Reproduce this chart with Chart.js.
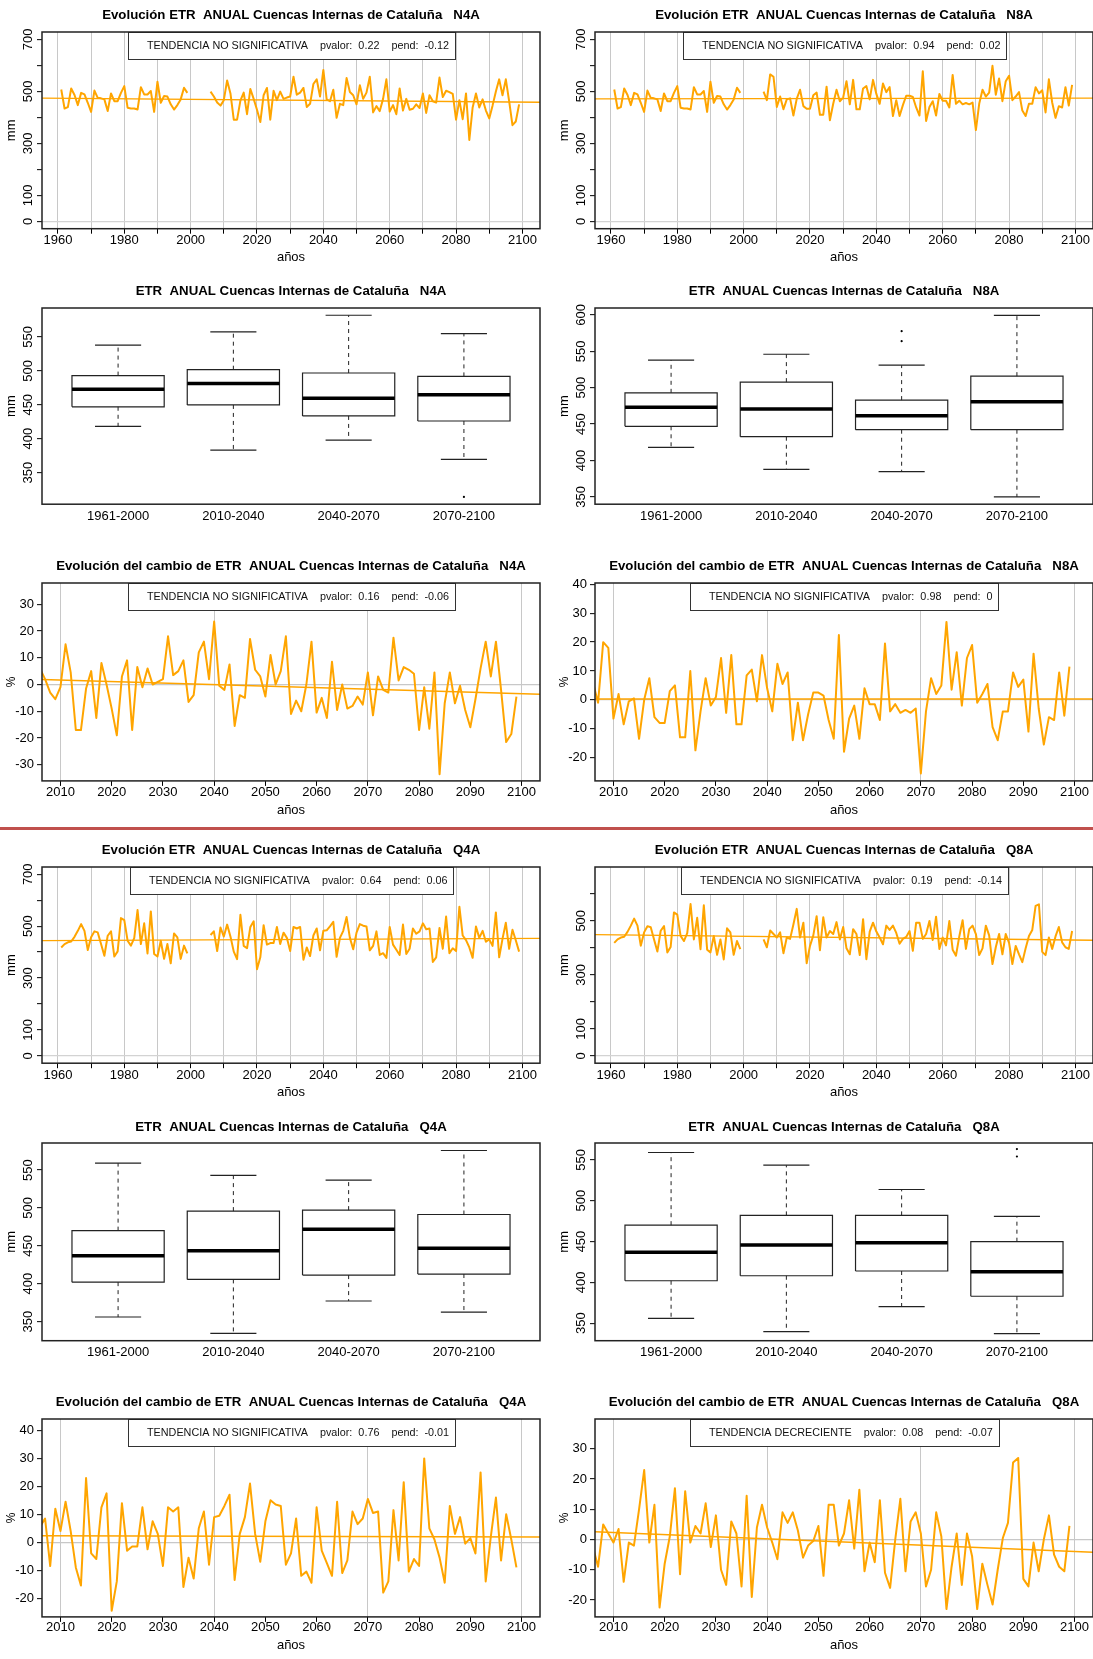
<!DOCTYPE html>
<html><head><meta charset="utf-8">
<script src="https://cdn.jsdelivr.net/npm/chart.js@4/dist/chart.umd.min.js"></script>
<style>
html,body{margin:0;padding:0;background:#fff;}
body{width:1093px;height:1659px;overflow:hidden;position:relative;}
canvas{position:absolute;}
#sep{position:absolute;left:0;top:827px;width:1093px;height:3px;background:#C0504D;}
</style></head><body>
<div id="sep"></div>
<script>
// ---------------- DATA ----------------
const histYears = []; for (let y = 1961; y <= 1999; y++) histYears.push(y);
const futYears = []; for (let y = 2006; y <= 2099; y++) futYears.push(y);

// observed/control period 1961-1999 (mm)
const obsN = [507,434,439,511,486,447,494,488,456,421,503,475,473,469,424,492,462,462,494,520,437,434,434,430,516,488,488,501,421,537,456,482,480,450,430,447,469,514,494];
const obsQ = [418,431,438,441,459,482,508,482,408,457,480,476,431,386,463,480,383,403,531,523,444,425,454,562,431,511,395,557,393,383,444,374,431,357,472,457,374,425,395];

// projected 2006-2099 (mm)
const futN4A = [499,480,457,445,466,542,492,391,391,464, 495,412,509,471,429,382,485,513,391,502, 466,499,471,476,480,556,487,495,513,440, 452,528,546,480,582,469,462,506,398,452, 447,551,497,485,450,523,471,495,556,419, 443,424,471,546,422,447,412,511,426,471, 429,433,450,436,492,417,485,462,457,553, 478,502,497,490,391,466,393,492,313,438, 492,438,469,426,396,445,499,546,485,546, 462,370,384,450];
const futN8A = [499,466,565,556,440,480,431,469,473,407, 471,506,443,433,433,485,495,410,410,518, 389,452,506,462,476,539,450,544,431,431, 511,520,469,544,490,452,530,497,516,405, 466,405,447,483,483,478,438,407,577,386, 440,462,407,490,464,464,438,563,452,464, 450,455,450,457,351,452,506,480,495,598, 487,549,462,539,560,466,480,497,426,405, 452,452,516,492,504,419,546,457,398,443, 438,516,445,525];
const futQ4A = [466,480,404,495,460,506,460,402,373,544, 424,415,497,519,334,380,504,429,435,435, 497,431,475,455,404,497,491,497,371,418, 385,464,491,407,482,484,499,517,382,455, 482,535,455,411,475,508,502,499,407,424, 480,389,396,378,497,429,409,389,506,393, 413,491,471,480,511,488,491,362,380,493, 413,537,396,415,404,575,464,446,418,378, 499,455,482,440,449,424,553,380,451,513, 413,486,446,402];
const futQ8A = [431,402,464,451,438,457,380,438,433,486, 544,438,493,343,407,446,517,391,513,438, 462,451,495,431,477,398,376,469,451,373, 506,358,460,493,460,438,413,482,466,482, 455,415,433,440,462,389,493,493,433,451, 499,429,515,396,438,409,499,393,371,442, 502,396,469,482,451,373,398,482,446,340, 402,451,376,451,418,340,407,376,347,398, 444,466,555,561,385,373,438,396,442,477, 420,402,396,462];

// change (%) 2006-2099
const pctN4A = [6,2,-3,-5.5,-1,15,4.5,-17,-17,-1.5, 5,-12.5,8,0,-9,-19,3,9,-17,6.5, -1,6,0,1,2,18,3.5,5,9,-6.5, -4,12,16,2,23.5,-0.5,-2,7.5,-15.5,-4, -5,17,5.5,3,-4.5,11,0,5,18,-11, -6,-10,0,16,-10.5,-5,-12.5,8.5,-9.5,0, -9,-8,-4.5,-7.5,4.5,-11.5,3,-2,-3,17.5, 1.5,6.5,5.5,4,-17,-1,-16.5,4.5,-33.5,-7, 4.5,-7,-0.5,-9.5,-16,-5.5,6,16,3,16, -2,-21.5,-18.5,-4.5];
const pctN8A = [6,-1,20,18,-6.5,2,-8.5,-0.5,0.5,-13.5, 0,7.5,-6,-8,-8,3,5,-13,-13,10, -17.5,-4,7.5,-2,1,14.5,-4.5,15.5,-8.5,-8.5, 8.5,10.5,-0.5,15.5,4,-4,12.5,5.5,9.5,-14, -1,-14,-5,2.5,2.5,1.5,-7,-13.5,22.5,-18, -6.5,-2,-13.5,4,-1.5,-1.5,-7,19.5,-4,-1.5, -4.5,-3.5,-4.5,-3,-25.5,-4,7.5,2,5,27, 3.5,16.5,-2,14.5,19,-1,2,5.5,-9.5,-14, -4,-4,9.5,4.5,7,-11,16,-3,-15.5,-6, -7,9.5,-5.5,11.5];
const pctQ4A = [5.5,8.5,-8.5,12,4,14.5,4,-9,-15.5,23, -4,-6,12.5,17.5,-24.5,-14,14,-3,-1.5,-1.5, 12.5,-2.5,7.5,3,-8.5,12.5,11,12.5,-16,-5.5, -13,5,11,-8,9,9.5,13,17,-13.5,3, 9,21,3,-7,7.5,15,13.5,13,-8,-4, 8.5,-12,-10.5,-14.5,12.5,-3,-7.5,-12,14.5,-11, -6.5,11,6.5,8.5,15.5,10.5,11,-18,-14,11.5, -6.5,21.5,-10.5,-6,-8.5,30,5,1,-5.5,-14.5, 13,3,9,-0.5,1.5,-4,25,-14,2,16, -6.5,10,1,-9];
const pctQ8A = [-2.5,-9,5,2,-1,3.5,-14,-1,-2,10, 23,-1,11.5,-22.5,-8,1,17,-11.5,16,-1, 4.5,2,12,-2.5,8,-10,-15,6,2,-15.5, 14.5,-19,4,11.5,4,-1,-6.5,9,5.5,9, 3,-6,-2,-0.5,4.5,-12,11.5,11.5,-2,2, 13,-3,16.5,-10.5,-1,-7.5,13,-11,-16,0, 13.5,-10.5,6,9,2,-15.5,-10,9,1,-23, -9,2,-15,2,-5.5,-23,-8,-15,-21.5,-10, 0.5,5.5,25.5,27,-13,-15.5,-1,-10.5,0,8, -5,-9,-10.5,4.5];

// trend line ends [at left edge, at right edge]
const trendTsN4A = [474, 458], trendTsN8A = [471, 474], trendTsQ4A = [444, 453], trendTsQ8A = [449, 428];
const trendPctN4A = [1.9, -3.6], trendPctN8A = [0.3, 0.3], trendPctQ4A = [2.3, 1.9], trendPctQ8A = [2.6, -4.2];

// boxplots: [lower whisker, Q1, median, Q3, upper whisker] per period
const periods = ['1961-2000', '2010-2040', '2040-2070', '2070-2100'];
const boxN4A = [[418,447,473,493,538],[383,449.7,481.4,501.7,557.5],[397.9,433.5,459.7,496.8,582],[369.3,426,464.6,491.8,555]];
const boxN8A = [[418,447,473,493,538],[387.9,432.7,470.7,507.7,546],[384.7,442.3,461.5,483,531],[350,442.3,480.7,515.9,599.5]];
const boxQ4A = [[356,402,437,470,559],[334.4,405.6,443.3,495.8,542.9],[377.1,411.3,471.8,497.1,536.7],[362.4,412.7,446.9,491.3,575.8]];
const boxQ8A = [[356,402,437,470,559],[339.7,408.1,445.7,482,543.4],[370.2,413.9,448.6,482,513.7],[337.2,383,413.1,449.8,480.7]];
const outN4A = [[4, 314]];
const outN8A = [[3, 577.6], [3, 563.9]];
const outQ4A = [];
const outQ8A = [[4, 563.2], [4, 554.1]];

// axis ticks / labels
const tsXTicks = [1960,1970,1980,1990,2000,2010,2020,2030,2040,2050,2060,2070,2080,2090,2100];
const tsXLabels = [1960,1980,2000,2020,2040,2060,2080,2100];
const tsYTicks = [0,100,200,300,400,500,600,700];
const tsYLabels = [0,100,300,500,700];
const tsYTicksQ8A = [0,100,200,300,400,500,600];
const tsYLabelsQ8A = [0,100,300,500];
const chgXTicks = [2010,2020,2030,2040,2050,2060,2070,2080,2090,2100];
const chgXGrid = [2010,2040,2070,2100];
const boxYTicks = [350,400,450,500,550];
const boxYTicksN8A = [350,400,450,500,550,600];
const pctYTicksN4A = [-30,-20,-10,0,10,20,30];
const pctYTicksN8A = [-20,-10,0,10,20,30,40];
const pctYTicksQ4A = [-20,-10,0,10,20,30,40];
const pctYTicksQ8A = [-20,-10,0,10,20,30];

const titlesTs = ['Evolución ETR  ANUAL Cuencas Internas de Cataluña   N4A','Evolución ETR  ANUAL Cuencas Internas de Cataluña   N8A','Evolución ETR  ANUAL Cuencas Internas de Cataluña   Q4A','Evolución ETR  ANUAL Cuencas Internas de Cataluña   Q8A'];
const titlesBox = ['ETR  ANUAL Cuencas Internas de Cataluña   N4A','ETR  ANUAL Cuencas Internas de Cataluña   N8A','ETR  ANUAL Cuencas Internas de Cataluña   Q4A','ETR  ANUAL Cuencas Internas de Cataluña   Q8A'];
const titlesChg = ['Evolución del cambio de ETR  ANUAL Cuencas Internas de Cataluña   N4A','Evolución del cambio de ETR  ANUAL Cuencas Internas de Cataluña   N8A','Evolución del cambio de ETR  ANUAL Cuencas Internas de Cataluña   Q4A','Evolución del cambio de ETR  ANUAL Cuencas Internas de Cataluña   Q8A'];
const legendTs = ['TENDENCIA NO SIGNIFICATIVA    pvalor:  0.22    pend:  -0.12','TENDENCIA NO SIGNIFICATIVA    pvalor:  0.94    pend:  0.02','TENDENCIA NO SIGNIFICATIVA    pvalor:  0.64    pend:  0.06','TENDENCIA NO SIGNIFICATIVA    pvalor:  0.19    pend:  -0.14'];
const legendChg = ['TENDENCIA NO SIGNIFICATIVA    pvalor:  0.16    pend:  -0.06','TENDENCIA NO SIGNIFICATIVA    pvalor:  0.98    pend:  0','TENDENCIA NO SIGNIFICATIVA    pvalor:  0.76    pend:  -0.01','TENDENCIA DECRECIENTE    pvalor:  0.08    pend:  -0.07'];

// ---------------- LAYOUT / STYLE ----------------
const FONT = "'Liberation Sans', Arial, Helvetica, sans-serif";
Chart.defaults.font.family = FONT;
Chart.defaults.color = '#000';
const ORANGE = '#FFA500';
const COL_LEFT = [0, 553];
const CANVAS_W = 551, YAXIS_W = 42, PAD_R = 11;
const ROWS = [
  {titleY: 15,    top: 32,   bottom: 228,  labelY: 239.5, xTitleY: 256.5},
  {titleY: 291.7, top: 308,  bottom: 504,  labelY: 516,   xTitleY: null},
  {titleY: 566.7, top: 583,  bottom: 780,  labelY: 791.5, xTitleY: 809.3},
  {titleY: 850.7, top: 867,  bottom: 1063, labelY: 1075,  xTitleY: 1092},
  {titleY: 1127.7,top: 1143, bottom: 1340, labelY: 1351.5,xTitleY: null},
  {titleY: 1402.3,top: 1419, bottom: 1616, labelY: 1627,  xTitleY: 1644.3}
];
const TITLE_SIZE = 13.25;
const LH = 13 * 1.2;
const TLH = TITLE_SIZE * 1.2;

function pts(xs, ys) { return xs.map((x, i) => ({x: x, y: ys[i]})); }

function framePlugin(legendText) {
  return {
    id: 'frame',
    afterDraw(chart) {
      const ctx = chart.ctx, a = chart.chartArea;
      ctx.save();
      if (legendText) {
        ctx.font = '10.8px ' + FONT;
        const tw = ctx.measureText(legendText).width;
        const bw = Math.round(tw + 25), bh = 27;
        const bx = Math.round((a.left + a.right) / 2 - bw / 2), by = Math.round(a.top);
        ctx.fillStyle = '#fff';
        ctx.fillRect(bx, by, bw, bh);
        ctx.strokeStyle = '#333'; ctx.lineWidth = 1;
        ctx.strokeRect(bx + 0.5, by + 0.5, bw, bh);
        ctx.fillStyle = '#111'; ctx.textBaseline = 'middle'; ctx.textAlign = 'left';
        ctx.fillText(legendText, bx + 19, by + bh / 2 + 1);
      }
      ctx.strokeStyle = '#222'; ctx.lineWidth = 1.5;
      ctx.strokeRect(a.left, a.top, a.right - a.left, a.bottom - a.top);
      ctx.restore();
    }
  };
}

function makeChart(col, rowIdx, spec) {
  const r = ROWS[rowIdx];
  const canvasTop = Math.floor(r.titleY - TLH / 2 - 4);
  const padTop = r.titleY - TLH / 2 - canvasTop;
  const padBottom = r.top - r.titleY - TLH / 2;
  let hx, tickPad;
  if (r.xTitleY !== null) {
    hx = r.xTitleY - r.bottom + LH / 2 + 2;
    tickPad = r.labelY - r.bottom - 5 - LH / 2;
  } else {
    hx = r.labelY - r.bottom + LH / 2 + 6;
    tickPad = r.labelY - r.bottom - LH / 2;
  }
  const canvasH = Math.ceil(r.bottom + hx - canvasTop);
  const cv = document.createElement('canvas');
  cv.width = CANVAS_W; cv.height = canvasH;
  cv.style.left = COL_LEFT[col] + 'px'; cv.style.top = canvasTop + 'px';
  cv.style.width = CANVAS_W + 'px'; cv.style.height = canvasH + 'px';
  document.body.appendChild(cv);

  const xs = spec.x, ys = spec.y;
  const scales = {
    x: {
      type: 'linear', position: 'bottom', min: xs.min, max: xs.max, bounds: 'data',
      afterBuildTicks: s => { s.ticks = xs.ticks.map(v => ({value: v})); },
      afterFit: s => { s.height = hx; },
      ticks: {autoSkip: false, maxRotation: 0, minRotation: 0, padding: tickPad, color: '#000',
              font: {size: 13}, callback: xs.callback},
      grid: {color: xs.gridColor, lineWidth: 1, drawTicks: xs.drawTicks, tickLength: xs.drawTicks ? 5 : 0,
             tickColor: '#000', tickWidth: 1},
      border: {display: false},
      title: {display: !!xs.title, text: xs.title || '', color: '#000', font: {size: 13}, padding: {top: 0, bottom: 2}}
    },
    y: {
      type: 'linear', position: 'left', min: ys.min, max: ys.max, bounds: 'data',
      afterBuildTicks: s => { s.ticks = ys.ticks.map(v => ({value: v})); },
      afterFit: s => { s.width = YAXIS_W; },
      ticks: Object.assign({autoSkip: false, color: '#000', font: {size: 13}, callback: ys.callback}, ys.rotated ?
             {minRotation: 90, maxRotation: 90, crossAlign: 'center', padding: -2.3} : {padding: 3}),
      grid: {color: ys.gridColor, lineWidth: 1.3, drawTicks: true, tickLength: 5, tickColor: '#000', tickWidth: 1},
      border: {display: false},
      title: {display: true, text: ys.title, color: '#000', font: {size: ys.titleSize || 13}, padding: {top: ys.titlePad || 3.2, bottom: 0}}
    }
  };
  return new Chart(cv, {
    type: 'line',
    data: {datasets: spec.datasets},
    options: {
      responsive: false, animation: false, devicePixelRatio: 1,
      layout: {padding: {left: 0, right: PAD_R, top: 0, bottom: 0}},
      elements: {point: {radius: 0, hoverRadius: 0}, line: {tension: 0, borderJoinStyle: 'round', fill: false}},
      plugins: {
        legend: {display: false}, tooltip: {enabled: false},
        title: {display: true, text: spec.title, fullSize: false, color: '#000',
                font: {size: TITLE_SIZE, weight: 'bold'}, padding: {top: padTop, bottom: padBottom}}
      },
      scales: scales
    },
    plugins: [framePlugin(spec.legend)]
  });
}

const transparent = 'rgba(0,0,0,0)';
function zeroGrid(col) { return c => (c.tick && c.tick.value === 0) ? col : transparent; }

function tsSpec(i, obs, fut, trend, yTicks, yLabels, yMin, yMax) {
  const xMin = 1955.2, xMax = 2105.3;
  return {
    title: titlesTs[i], legend: legendTs[i],
    x: {min: xMin, max: xMax, ticks: tsXTicks, drawTicks: true, title: 'años',
        callback: v => tsXLabels.includes(v) ? String(v) : '',
        gridColor: c => (c.tick && tsXTicks.includes(c.tick.value)) ? '#C8C8C8' : transparent},
    y: {min: yMin, max: yMax, ticks: yTicks, rotated: true, title: 'mm',
        callback: v => yLabels.includes(v) ? String(v) : '', gridColor: zeroGrid('#D3D3D3')},
    datasets: [
      {data: [{x: xMin, y: trend[0]}, {x: xMax, y: trend[1]}], borderColor: ORANGE, borderWidth: 1.3, pointRadius: 0},
      {data: pts(histYears, obs), borderColor: ORANGE, borderWidth: 2, pointRadius: 0},
      {data: pts(futYears, fut), borderColor: ORANGE, borderWidth: 2, pointRadius: 0}
    ]
  };
}

function chgSpec(i, pct, trend, yTicks, yMin, yMax) {
  const xMin = 2006.4, xMax = 2103.6;
  return {
    title: titlesChg[i], legend: legendChg[i],
    x: {min: xMin, max: xMax, ticks: chgXTicks, drawTicks: true, title: 'años',
        callback: v => String(v),
        gridColor: c => (c.tick && chgXGrid.includes(c.tick.value)) ? '#C8C8C8' : transparent},
    y: {min: yMin, max: yMax, ticks: yTicks, rotated: false, title: '%', titleSize: 12, titlePad: 4,
        callback: v => String(v), gridColor: zeroGrid('#C8C8C8')},
    datasets: [
      {data: [{x: xMin, y: trend[0]}, {x: xMax, y: trend[1]}], borderColor: ORANGE, borderWidth: 1.5, pointRadius: 0},
      {data: pts(futYears, pct), borderColor: ORANGE, borderWidth: 2, pointRadius: 0}
    ]
  };
}

function boxSpec(i, stats, outliers, yTicks, yMin, yMax) {
  const W = 0.4, C = 0.2;
  const boxPts = [], medPts = [], whPts = [], capPts = [];
  stats.forEach((s, k) => {
    const x = k + 1, lo = s[0], q1 = s[1], med = s[2], q3 = s[3], hi = s[4];
    boxPts.push({x: x - W, y: q1}, {x: x + W, y: q1}, {x: x + W, y: q3}, {x: x - W, y: q3}, {x: x - W, y: q1}, {x: x, y: null});
    medPts.push({x: x - W, y: med}, {x: x + W, y: med}, {x: x, y: null});
    whPts.push({x: x, y: q3}, {x: x, y: hi}, {x: x, y: null}, {x: x, y: q1}, {x: x, y: lo}, {x: x, y: null});
    capPts.push({x: x - C, y: hi}, {x: x + C, y: hi}, {x: x, y: null}, {x: x - C, y: lo}, {x: x + C, y: lo}, {x: x, y: null});
  });
  return {
    title: titlesBox[i], legend: null,
    x: {min: 0.34, max: 4.66, ticks: [1, 2, 3, 4], drawTicks: false, title: null,
        callback: (v, idx) => periods[idx], gridColor: transparent},
    y: {min: yMin, max: yMax, ticks: yTicks, rotated: true, title: 'mm',
        callback: v => String(v), gridColor: transparent},
    datasets: [
      {data: medPts, borderColor: '#000', borderWidth: 3.5, pointRadius: 0, borderCapStyle: 'butt', spanGaps: false},
      {data: boxPts, borderColor: '#222', borderWidth: 1.2, pointRadius: 0, borderJoinStyle: 'miter', spanGaps: false},
      {data: whPts, borderColor: '#222', borderWidth: 1, borderDash: [4, 4], pointRadius: 0, spanGaps: false},
      {data: capPts, borderColor: '#222', borderWidth: 1.2, pointRadius: 0, spanGaps: false},
      {data: outliers.map(o => ({x: o[0], y: o[1]})), showLine: false, pointRadius: 1.1, pointBackgroundColor: '#000', pointBorderColor: '#000', pointBorderWidth: 0}
    ]
  };
}

// Top half: N4A (left), N8A (right)
makeChart(0, 0, tsSpec(0, obsN, futN4A, trendTsN4A, tsYTicks, tsYLabels, -28, 728));
makeChart(1, 0, tsSpec(1, obsN, futN8A, trendTsN8A, tsYTicks, tsYLabels, -28, 728));
makeChart(0, 1, boxSpec(0, boxN4A, outN4A, boxYTicks, 303.3, 592.7));
makeChart(1, 1, boxSpec(1, boxN8A, outN8A, boxYTicksN8A, 340, 609.5));
makeChart(0, 2, chgSpec(0, pctN4A, trendPctN4A, pctYTicksN4A, -36, 37.9));
makeChart(1, 2, chgSpec(1, pctN8A, trendPctN8A, pctYTicksN8A, -28.1, 40.5));
// Bottom half: Q4A (left), Q8A (right)
makeChart(0, 3, tsSpec(2, obsQ, futQ4A, trendTsQ4A, tsYTicks, tsYLabels, -28, 728));
makeChart(1, 3, tsSpec(3, obsQ, futQ8A, trendTsQ8A, tsYTicksQ8A, tsYLabelsQ8A, -26.9, 698.9));
makeChart(0, 4, boxSpec(2, boxQ4A, outQ4A, boxYTicks, 324.7, 585.7));
makeChart(1, 4, boxSpec(3, boxQ8A, outQ8A, boxYTicks, 328.6, 570.6));
makeChart(0, 5, chgSpec(2, pctQ4A, trendPctQ4A, pctYTicksQ4A, -26.7, 44.1));
makeChart(1, 5, chgSpec(3, pctQ8A, trendPctQ8A, pctYTicksQ8A, -25.6, 39.9));
</script>
</body></html>
